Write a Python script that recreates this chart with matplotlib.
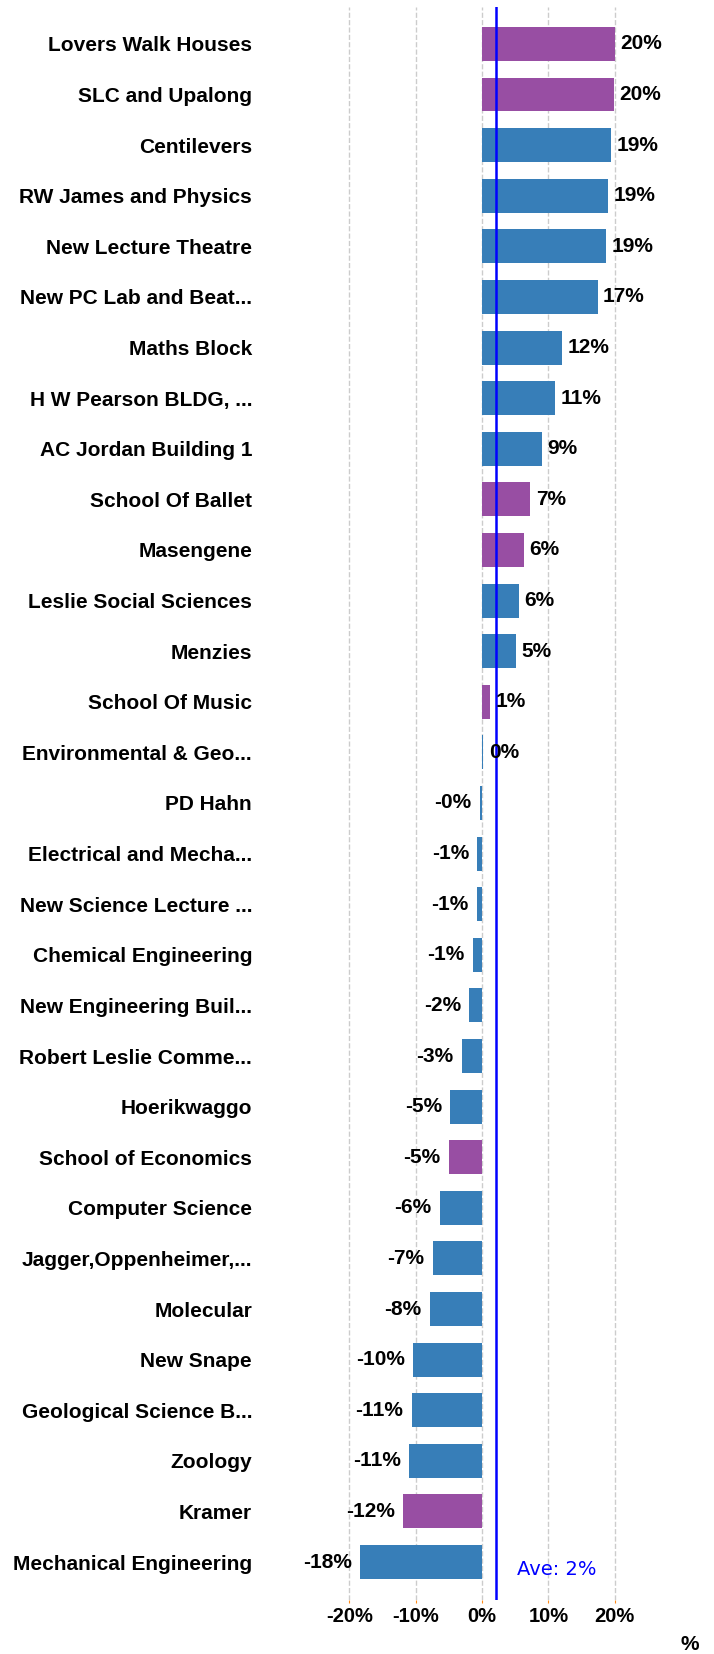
import matplotlib
matplotlib.use("Agg")
import matplotlib.pyplot as plt

# --------------------------
# Data
# --------------------------
buildings = [
    "Lovers Walk Houses", "SLC and Upalong", "Centilevers", "RW James and Physics",
    "New Lecture Theatre", "New PC Lab and Beat...", "Maths Block", "H W Pearson BLDG, ...",
    "AC Jordan Building 1", "School Of Ballet", "Masengene", "Leslie Social Sciences",
    "Menzies", "School Of Music", "Environmental & Geo...", "PD Hahn",
    "Electrical and Mecha...", "New Science Lecture ...", "Chemical Engineering",
    "New Engineering Buil...", "Robert Leslie Comme...", "Hoerikwaggo",
    "School of Economics", "Computer Science", "Jagger,Oppenheimer,...", "Molecular",
    "New Snape", "Geological Science B...", "Zoology", "Kramer", "Mechanical Engineering",
]
change_pct = [
    20.0, 19.9, 19.4, 19.0, 18.7, 17.4, 12.1, 11.0, 9.0, 7.3, 6.3, 5.6, 5.1, 1.2, 0.2,
    -0.3, -0.7, -0.8, -1.4, -1.9, -3.0, -4.8, -5.0, -6.4, -7.4, -7.9, -10.4, -10.6,
    -11.0, -11.9, -18.3,
]
highlighted = {"Lovers Walk Houses", "SLC and Upalong", "School Of Ballet", "Masengene",
               "School Of Music", "School of Economics", "Kramer"}
average_pct = 2.1
ticks = [-20, -10, 0, 10, 20]

BLUE = "#377eb8"
PURPLE = "#984ea3"

plt.rcParams['font.family'] = ['Liberation Sans', 'DejaVu Sans']

fig = plt.figure(figsize=(7.14, 16.54), dpi=100)
ax = fig.add_axes([316 / 714, 1 - 1600 / 1654, 332 / 714, 1593 / 1654])

y_pos = list(range(len(buildings)))
colors = [PURPLE if b in highlighted else BLUE for b in buildings]
ax.barh(y_pos, change_pct, height=0.67, color=colors, zorder=2)

for y, v in zip(y_pos, change_pct):
    if v >= 0:
        ax.annotate(f"{v:.0f}%", (v, y), xytext=(4, 0), textcoords="offset points",
                    ha="left", va="center", fontsize=15, fontweight="bold", zorder=4)
    else:
        ax.annotate(f"{v:.0f}%", (v, y), xytext=(-6, 0), textcoords="offset points",
                    ha="right", va="center", fontsize=15, fontweight="bold", zorder=4)

ax.axvline(average_pct, color="blue", linewidth=1.8, zorder=3)
ax.text(5.3, 30.15, f"Ave: {average_pct:.0f}%", color="blue", fontsize=14,
        family="DejaVu Sans", ha="left", va="center")

ax.set_xlim(-25, 25)
ax.set_ylim(len(buildings) - 0.25, -0.73)
ax.set_yticks(y_pos)
ax.set_yticklabels(buildings, fontsize=15, fontweight="bold")
ax.set_xticks(ticks)
ax.set_xticklabels([f"{t}%" for t in ticks], fontsize=14.5, fontweight="bold")
ax.tick_params(axis="y", length=0, pad=46)
ax.tick_params(axis="x", length=2, color="#ff8c1a", pad=3)
ax.grid(axis="x", color="#cccccc", linestyle="--", linewidth=1, zorder=0)
ax.set_axisbelow(True)
for s in ax.spines.values():
    s.set_visible(False)

fig.text(690 / 714, 1 - 1645 / 1654, "%", ha="center", va="center",
         fontsize=15, fontweight="bold")

fig.savefig("out.png", dpi=100)
